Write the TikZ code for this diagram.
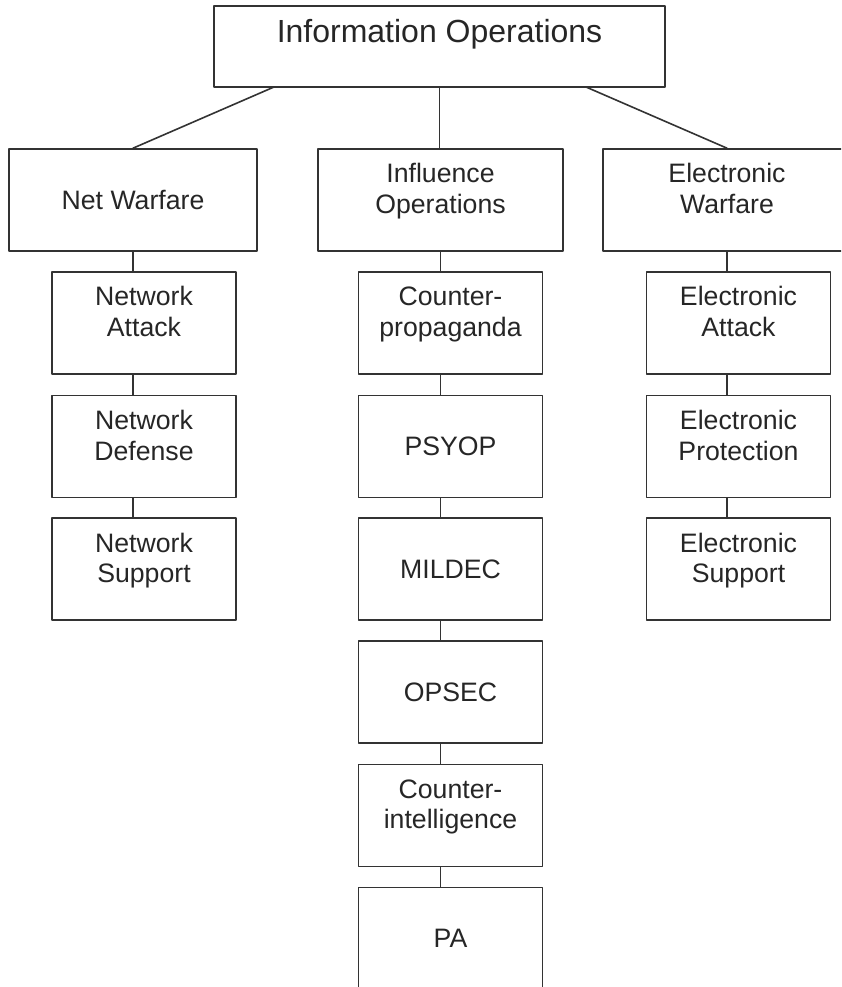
\documentclass[tikz,border=0pt]{standalone}
\usepackage{fontspec}
\setmainfont{Liberation Sans}
\usetikzlibrary{calc}

\tikzset{
    box/.style={rectangle, draw=black!80, line width=1.2pt, align=center, text=black!85,
        font=\fontsize{20}{23}\selectfont, minimum width=138pt, minimum height=76.5pt},
    headbox/.style={box, minimum width=186pt},
    topbox/.style={box, font=\fontsize{24}{30}\selectfont, minimum width=338.25pt, minimum height=60.75pt},
    link/.style={draw=black!80, line width=1.2pt}
}

\begin{document}
\begin{tikzpicture}[line cap=round,line join=round,x=0.75pt,y=-0.75pt]

    \useasboundingbox (0,0) rectangle (841,987);
    \clip (0,0) rectangle (841,987);

    % top level
    \draw (439.5,46.5) node[topbox] (IO) {Information Operations\\[-6pt]};
    \coordinate (IOl) at (274,87);
    \coordinate (IOr) at (586,87);

    % second level
    \draw (133,200) node[headbox] (NW) {Net Warfare};
    \draw (440.5,200) node[headbox, minimum width=183.75pt] (IFO) {Influence\\Operations\\[-6pt]};
    \draw (727,200) node[headbox] (EW) {Electronic\\Warfare\\[-6pt]};

    \draw[link] (IOl) -- (NW.north);
    \draw[link] (IO.south) -- (IO.south |- IFO.north);
    \draw[link] (IOr) -- (EW.north);

    % net warfare column
    \draw (144,323) node[box] (NA) {Network\\Attack\\[-6pt]};
    \draw (144,446.5) node[box] (ND) {Network\\Defense\\[-6pt]};
    \draw (144,569) node[box] (NS) {Network\\Support\\[-6pt]};

    \draw[link] (NW.south) -- (NW.south |- NA.north);
    \draw[link] (NA.south -| NW.south) -- (ND.north -| NW.south);
    \draw[link] (ND.south -| NW.south) -- (NS.north -| NW.south);

    % influence operations column
    \draw (450.5,323) node[box] (CP) {Counter-\\propaganda\\[-6pt]};
    \draw (450.5,446.5) node[box] (PSY) {PSYOP};
    \draw (450.5,569) node[box] (MIL) {MILDEC};
    \draw (450.5,692) node[box] (OPS) {OPSEC};
    \draw (450.5,815.5) node[box] (CI) {Counter-\\intelligence\\[-6pt]};
    \draw (450.5,938.5) node[box] (PA) {PA};

    \draw[link] (IFO.south) -- (IFO.south |- CP.north);
    \draw[link] (CP.south -| IFO.south) -- (PSY.north -| IFO.south);
    \draw[link] (PSY.south -| IFO.south) -- (MIL.north -| IFO.south);
    \draw[link] (MIL.south -| IFO.south) -- (OPS.north -| IFO.south);
    \draw[link] (OPS.south -| IFO.south) -- (CI.north -| IFO.south);
    \draw[link] (CI.south -| IFO.south) -- (PA.north -| IFO.south);

    % electronic warfare column
    \draw (738.5,323) node[box] (EA) {Electronic\\Attack\\[-6pt]};
    \draw (738.5,446.5) node[box] (EP) {Electronic\\Protection\\[-6pt]};
    \draw (738.5,569) node[box] (ES) {Electronic\\Support\\[-6pt]};

    \draw[link] (EW.south) -- (EW.south |- EA.north);
    \draw[link] (EA.south -| EW.south) -- (EP.north -| EW.south);
    \draw[link] (EP.south -| EW.south) -- (ES.north -| EW.south);

\end{tikzpicture}
\end{document}
